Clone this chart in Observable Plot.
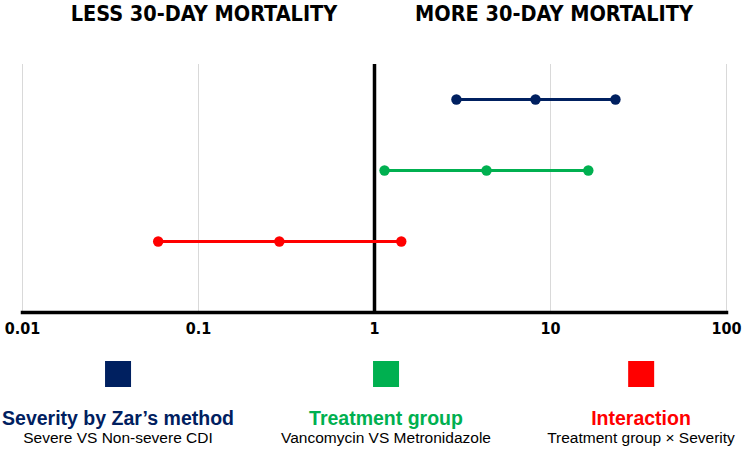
<!DOCTYPE html>
<html>
<head>
<meta charset="utf-8">
<script src="https://cdn.jsdelivr.net/npm/d3@7"></script>
<script src="https://cdn.jsdelivr.net/npm/@observablehq/plot@0.6"></script>
<style>
  html, body { margin: 0; padding: 0; background: #fff; }
  #wrap { position: relative; width: 742px; height: 449px; overflow: hidden; font-family: "Liberation Sans", Arial, sans-serif; }
  .hdr { position: absolute; top: 0px; transform: translateX(-50%); white-space: nowrap;
         font-family: "Liberation Sans Narrow", "Arial Narrow", "DejaVu Sans Condensed", sans-serif;
         font-weight: bold; font-size: 21.5px; line-height: 28px; color: #000; }
  #chart { position: absolute; left: 0; top: 30px; }
  .leg { position: absolute; top: 361px; transform: translateX(-50%); text-align: center; white-space: nowrap; }
  .sw { width: 26px; height: 26px; margin: 0 auto; }
  .lt { font-weight: bold; font-size: 19.5px; line-height: 22px; margin-top: 20px; }
  .ls { font-size: 15.5px; line-height: 17px; color: #000; }
</style>
</head>
<body>
<div id="wrap"></div>
<script>
const rows = ["Severity by Zar\u2019s method", "Treatment group", "Interaction"];
const subtitles = ["Severe VS Non-severe CDI", "Vancomycin VS Metronidazole", "Treatment group \u00d7 Severity"];
const lower = [2.92, 1.14, 0.059];
const estimate = [8.22, 4.33, 0.288];
const upper = [23.4, 16.4, 1.42];
const colors = ["#002060", "#00B050", "#FF0000"];
const tickValues = [0.01, 0.1, 1, 10, 100];
const headers = ["LESS 30-DAY MORTALITY", "MORE 30-DAY MORTALITY"];

const intervals = rows.map((r, i) => ({row: r, lower: lower[i], estimate: estimate[i], upper: upper[i]}));
const points = intervals.flatMap(d => [d.lower, d.estimate, d.upper].map(v => ({row: d.row, value: v})));

const wrap = document.getElementById("wrap");

// headers
const headerCenters = [204, 554];
headers.forEach((h, i) => {
  const d = document.createElement("div");
  d.className = "hdr";
  d.style.left = headerCenters[i] + "px";
  d.textContent = h;
  wrap.appendChild(d);
});

const chart = Plot.plot({
  width: 742,
  height: 315,
  marginLeft: 22,
  marginRight: 16,
  marginTop: 34,
  marginBottom: 33,
  style: {fontFamily: "'Liberation Sans Narrow', 'Arial Narrow', 'DejaVu Sans Condensed', sans-serif", fontSize: "16px", fontWeight: "bold", color: "#000", background: "transparent"},
  x: {type: "log", domain: [0.01, 100], ticks: tickValues, tickFormat: d => String(d), tickSize: 0, tickPadding: 10, label: null},
  y: {type: "point", domain: rows, range: [69, 211], padding: 0, axis: null},
  color: {domain: rows, range: colors},
  marks: [
    Plot.ruleX(tickValues.filter(t => t !== 1), {stroke: "#d9d9d9", strokeWidth: 1}),
    Plot.ruleX([1], {stroke: "#000", strokeWidth: 3.5}),
    Plot.frame({anchor: "bottom", stroke: "#000", strokeWidth: 3.5}),
    Plot.link(intervals, {x1: "lower", x2: "upper", y1: "row", y2: "row", stroke: "row", strokeWidth: 2.8}),
    Plot.dot(points, {x: "value", y: "row", fill: "row", r: 5.2})
  ]
});
chart.id = "chart";
wrap.appendChild(chart);

// legend
const legendCenters = [118, 386, 641];
rows.forEach((r, i) => {
  const d = document.createElement("div");
  d.className = "leg";
  d.style.left = legendCenters[i] + "px";
  const sw = document.createElement("div");
  sw.className = "sw";
  sw.style.background = colors[i];
  const t = document.createElement("div");
  t.className = "lt";
  t.style.color = colors[i];
  t.textContent = r;
  const s = document.createElement("div");
  s.className = "ls";
  s.textContent = subtitles[i];
  d.append(sw, t, s);
  wrap.appendChild(d);
});
</script>
</body>
</html>
